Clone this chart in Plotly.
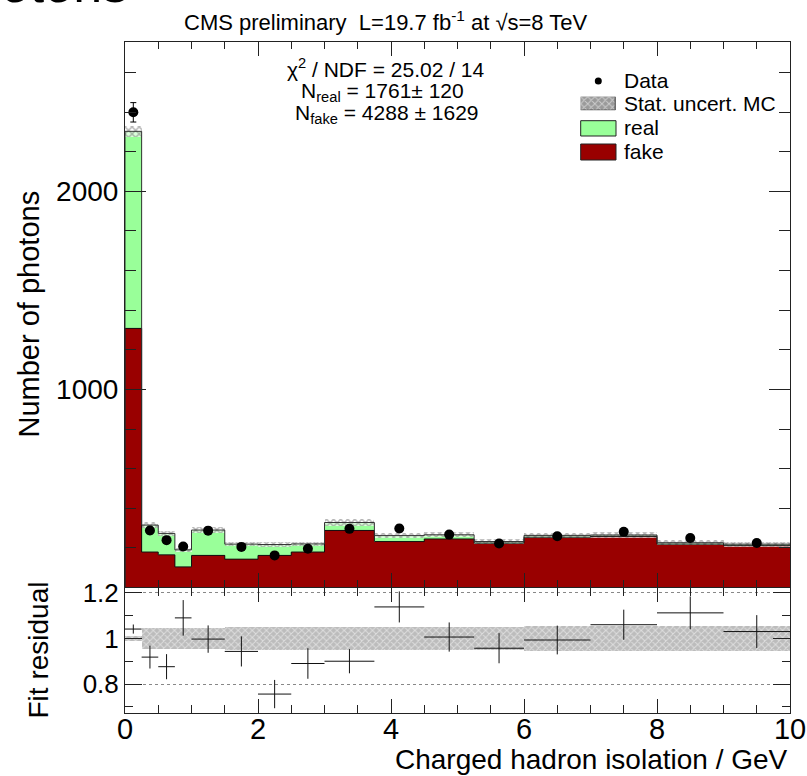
import plotly.graph_objects as go

W, H = 807, 776

# ---------------- data ----------------
bin_edges = [0, 0.25, 0.5, 0.75, 1.0, 1.5, 2.0, 2.5, 3.0, 3.75, 4.5, 5.25, 6.0, 7.0, 8.0, 9.0, 10.0]
fake = [1308, 179, 165, 104, 162, 143, 162, 179, 288, 232, 245, 224, 254, 258, 219, 213]
real = [995, 136, 108, 86, 128, 76, 55, 41, 40, 30, 21, 8, 9, 7, 7, 6]
data = [2399, 288, 239, 207, 287, 205, 162, 196, 296, 298, 267, 222, 259, 281, 250, 225]
data_err = [49, 17, 15, 14, 17, 14, 13, 14, 17, 17, 16, 15, 16, 17, 16, 15]
mc_rel_err = [0.012, 0.045, 0.045, 0.045, 0.045, 0.05, 0.05, 0.05, 0.05, 0.05, 0.05, 0.05,
              0.055, 0.055, 0.055, 0.055]
residual = [1.041, 0.918, 0.876, 1.09, 0.997, 0.943, 0.756, 0.89, 0.90, 1.138, 1.006, 0.957,
            0.993, 1.06, 1.112, 1.03]
residual_err = [0.02, 0.05, 0.055, 0.078, 0.06, 0.066, 0.062, 0.067, 0.053, 0.068, 0.064,
                0.066, 0.063, 0.066, 0.072, 0.072]

centers = [(a + b) / 2 for a, b in zip(bin_edges[:-1], bin_edges[1:])]
widths = [b - a for a, b in zip(bin_edges[:-1], bin_edges[1:])]
half_widths = [w / 2 for w in widths]
total = [f + r for f, r in zip(fake, real)]

RED = "#990000"
GREEN = "#99ff99"
FONT = "Liberation Sans, Arial, Helvetica, sans-serif"


def px(x):
    return x / W


def py(y):
    return 1 - y / H


hatch_main = dict(shape="x", fgcolor="#6e6e6e", bgcolor="rgba(255,255,255,0.65)", size=5, solidity=0.5)
hatch_res = dict(shape="x", fgcolor="#ffffff", bgcolor="#bcbcbc", size=5, solidity=0.35)

fig = go.Figure()

# stacked histogram
fig.add_trace(go.Bar(x=centers, y=fake, base=[0] * len(fake), width=widths,
                     marker=dict(color=RED, line=dict(width=0)), xaxis="x", yaxis="y",
                     showlegend=False))
fig.add_trace(go.Bar(x=centers, y=real, base=fake, width=widths,
                     marker=dict(color=GREEN, line=dict(width=0)), xaxis="x", yaxis="y",
                     showlegend=False))
# outlines
fig.add_trace(go.Scatter(x=[0] + bin_edges, y=[0] + fake + [fake[-1]], mode="lines",
                         line=dict(color="#111", width=1, shape="hv"), xaxis="x", yaxis="y",
                         showlegend=False))
fig.add_trace(go.Scatter(x=[0] + bin_edges, y=[0] + total + [total[-1]], mode="lines",
                         line=dict(color="#333", width=1, shape="hv"), xaxis="x", yaxis="y",
                         showlegend=False))
# MC stat uncertainty band
band_lo = [t * (1 - e) for t, e in zip(total, mc_rel_err)]
band_h = [2 * t * e for t, e in zip(total, mc_rel_err)]
fig.add_trace(go.Bar(x=centers, y=band_h, base=band_lo, width=widths,
                     marker=dict(color="rgba(0,0,0,0)", line=dict(width=0), pattern=hatch_main),
                     xaxis="x", yaxis="y", showlegend=False))
# data
fig.add_trace(go.Scatter(x=centers, y=data, mode="markers",
                         marker=dict(color="black", size=10),
                         error_y=dict(type="data", array=data_err, color="black", thickness=1, width=3),
                         xaxis="x", yaxis="y", showlegend=False))

# residual panel
fig.add_trace(go.Bar(x=centers, y=[2 * e for e in mc_rel_err], base=[1 - e for e in mc_rel_err],
                     width=widths,
                     marker=dict(color="rgba(0,0,0,0)", line=dict(width=0), pattern=hatch_res),
                     xaxis="x2", yaxis="y2", showlegend=False))
fig.add_trace(go.Scatter(x=centers, y=residual, mode="markers",
                         marker=dict(color="black", size=1, opacity=0),
                         error_y=dict(type="data", array=residual_err, color="#111", thickness=1, width=0),
                         error_x=dict(type="data", array=half_widths, color="#111", thickness=1, width=0),
                         xaxis="x2", yaxis="y2", showlegend=False))

# legend swatch for hatch (on a small hidden axis covering only the legend box)
LEG_BOX = (580.7, 616.0, 96.7, 110.2)
fig.add_trace(go.Bar(x=[0.5], y=[1], base=[0], width=[1],
                     marker=dict(color="rgba(0,0,0,0)", line=dict(color="#333", width=1),
                                 pattern=dict(shape="x", fgcolor="#ffffff", bgcolor="#9a9a9a",
                                              size=5, solidity=0.35)),
                     xaxis="x3", yaxis="y3", showlegend=False))

xdom = [px(125), px(790)]
axis_line = dict(showline=True, linecolor="#222", linewidth=1, mirror="ticks",
                 ticks="inside", tickcolor="#222", zeroline=False, showgrid=False)

fig.update_layout(
    width=W, height=H,
    margin=dict(l=0, r=0, t=0, b=0, autoexpand=False),
    paper_bgcolor="white", plot_bgcolor="rgba(0,0,0,0)",
    barmode="overlay", bargap=0,
    font=dict(family=FONT, color="black"),
    xaxis=dict(domain=xdom, anchor="y", range=[0, 10], dtick=2, tick0=0, ticklen=14,
               showticklabels=False,
               minor=dict(dtick=0.5, ticklen=7, ticks="inside", tickcolor="#222"),
               **axis_line),
    yaxis=dict(domain=[py(587.3), py(42)], anchor="x", range=[1, 2754], dtick=1000, tick0=0,
               ticklen=21, tickfont=dict(size=28, family=FONT),
               minor=dict(dtick=200, ticklen=11, ticks="inside", tickcolor="#222"),
               **axis_line),
    xaxis2=dict(domain=xdom, anchor="y2", range=[0, 10], dtick=2, tick0=0, ticklen=14,
                tickfont=dict(size=29, family=FONT), ticklabelstandoff=-10,
                minor=dict(dtick=0.5, ticklen=8, ticks="inside", tickcolor="#222"),
                **axis_line),
    yaxis2=dict(domain=[py(713), py(588)], anchor="x2", range=[0.673, 1.221], dtick=0.2, tick0=0.8,
                ticklen=17, tickfont=dict(size=26, family=FONT),
                minor=dict(dtick=0.1, ticklen=8, ticks="inside", tickcolor="#222"),
                showline=True, linecolor="#222", linewidth=1, mirror="ticks",
                ticks="inside", tickcolor="#222", zeroline=False,
                showgrid=True, gridcolor="#888", griddash="dot", gridwidth=1),
    xaxis3=dict(domain=[px(LEG_BOX[0]), px(LEG_BOX[1])], anchor="y3", range=[0, 1],
                visible=False, fixedrange=True),
    yaxis3=dict(domain=[py(LEG_BOX[3]), py(LEG_BOX[2])], anchor="x3", range=[0, 1],
                visible=False, fixedrange=True),
)

ann = []
# cut-off text at top-left
ann.append(dict(text="photons", x=px(130), y=py(15), xref="paper", yref="paper",
                xanchor="right", yanchor="bottom", showarrow=False, font=dict(size=52, family=FONT)))
# top title
ann.append(dict(text="CMS preliminary&nbsp; L=19.7 fb<sup>-1</sup> at √s=8 TeV", x=px(182), y=py(21),
                xref="paper", yref="paper", xanchor="left", yanchor="middle", showarrow=False,
                font=dict(size=22, family=FONT)))
# fit info
ann.append(dict(text="χ<sup>2</sup> / NDF = 25.02 / 14", x=px(386), y=py(68), xref="paper", yref="paper",
                xanchor="center", yanchor="middle", showarrow=False, font=dict(size=21, family=FONT)))
ann.append(dict(text="N<sub>real</sub> = 1761± 120", x=px(382), y=py(92), xref="paper", yref="paper",
                xanchor="center", yanchor="middle", showarrow=False, font=dict(size=21, family=FONT)))
ann.append(dict(text="N<sub>fake</sub> = 4288 ± 1629", x=px(387), y=py(114), xref="paper", yref="paper",
                xanchor="center", yanchor="middle", showarrow=False, font=dict(size=21, family=FONT)))
# legend texts
for txt, yc in [("Data", 81), ("Stat. uncert. MC", 103.5), ("real", 128), ("fake", 152)]:
    ann.append(dict(text=txt, x=px(622), y=py(yc), xref="paper", yref="paper",
                    xanchor="left", yanchor="middle", showarrow=False, font=dict(size=21, family=FONT)))
# axis titles
ann.append(dict(text="Number of photons", x=px(28), y=py(314.5), xref="paper", yref="paper",
                xanchor="center", yanchor="middle", textangle=-90, showarrow=False,
                font=dict(size=29, family=FONT)))
ann.append(dict(text="Fit residual", x=px(38), y=py(650.5), xref="paper", yref="paper",
                xanchor="center", yanchor="middle", textangle=-90, showarrow=False,
                font=dict(size=28, family=FONT)))
ann.append(dict(text="Charged hadron isolation / GeV", x=px(790), y=py(759), xref="paper", yref="paper",
                xanchor="right", yanchor="middle", showarrow=False, font=dict(size=28, family=FONT)))
fig.update_layout(annotations=ann)

# legend graphic shapes
shapes = [
    dict(type="circle", xref="paper", yref="paper",
         x0=px(594.8), x1=px(601.8), y0=py(84.5), y1=py(77.5),
         fillcolor="black", line=dict(color="black", width=0)),
    dict(type="rect", xref="paper", yref="paper",
         x0=px(580.7), x1=px(616), y0=py(136), y1=py(120.7),
         fillcolor=GREEN, line=dict(color="#222", width=1)),
    dict(type="rect", xref="paper", yref="paper",
         x0=px(580.7), x1=px(616), y0=py(160), y1=py(144),
         fillcolor=RED, line=dict(color="#222", width=1)),
]
fig.update_layout(shapes=shapes)

fig.write_html("out.html", config={"displayModeBar": False},
               post_script="document.body.style.margin='0';")
